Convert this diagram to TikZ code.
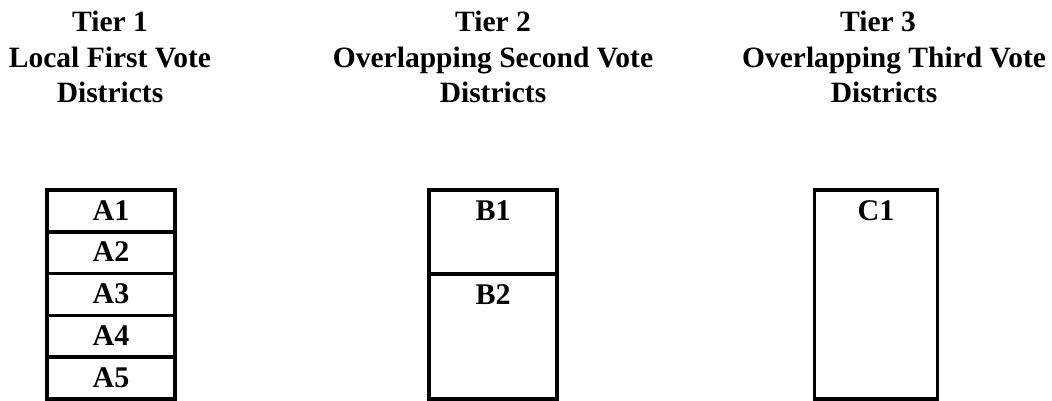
\documentclass[tikz,border=0pt]{standalone}
\usepackage{fontspec}
\setmainfont{Liberation Serif}
\usetikzlibrary{positioning}
\tikzset{
  heading/.style={align=center,inner sep=0pt,font=\fontsize{29.5}{35.5}\selectfont\bfseries},
  district/.style={draw,line width=3.5pt,outer sep=0pt,inner sep=0pt,
    minimum width=128pt,text height=30pt,font=\fontsize{30}{34}\selectfont\bfseries},
}

\begin{document}
\begin{tikzpicture}[x=1pt,y=-1pt]
  \useasboundingbox (0,0) rectangle (1052,401);

  % tier headings
  \node[heading,anchor=base] (tier1) at (110,103) {Tier 1\\Local First Vote\\Districts};
  \node[heading,anchor=base] (tier2) at (493,103) {Tier 2\\Overlapping Second Vote\\Districts};
  \node[heading,anchor=base] (tier3) at (884,103) {Tier 3\hspace*{12pt}\\\hspace*{20pt}Overlapping Third Vote\\Districts};

  % tier 1: five local districts
  \node[district,text depth=11.8pt,anchor=north] (a1) at (111,190) {A1};
  \foreach \i [remember=\i as \j (initially 1)] in {2,...,5}
    \node[district,text depth=11.8pt,below=0pt of a\j] (a\i) {A\i};

  % tier 2
  \node[district,text depth=54pt,anchor=north] (b1) at (493,190) {B1};
  \node[district,text depth=95pt,below=0pt of b1] (b2) {B2};

  % tier 3
  \node[district,text depth=179pt,minimum width=123pt,anchor=north] (c1) at (876,190) {C1};
\end{tikzpicture}
\end{document}
